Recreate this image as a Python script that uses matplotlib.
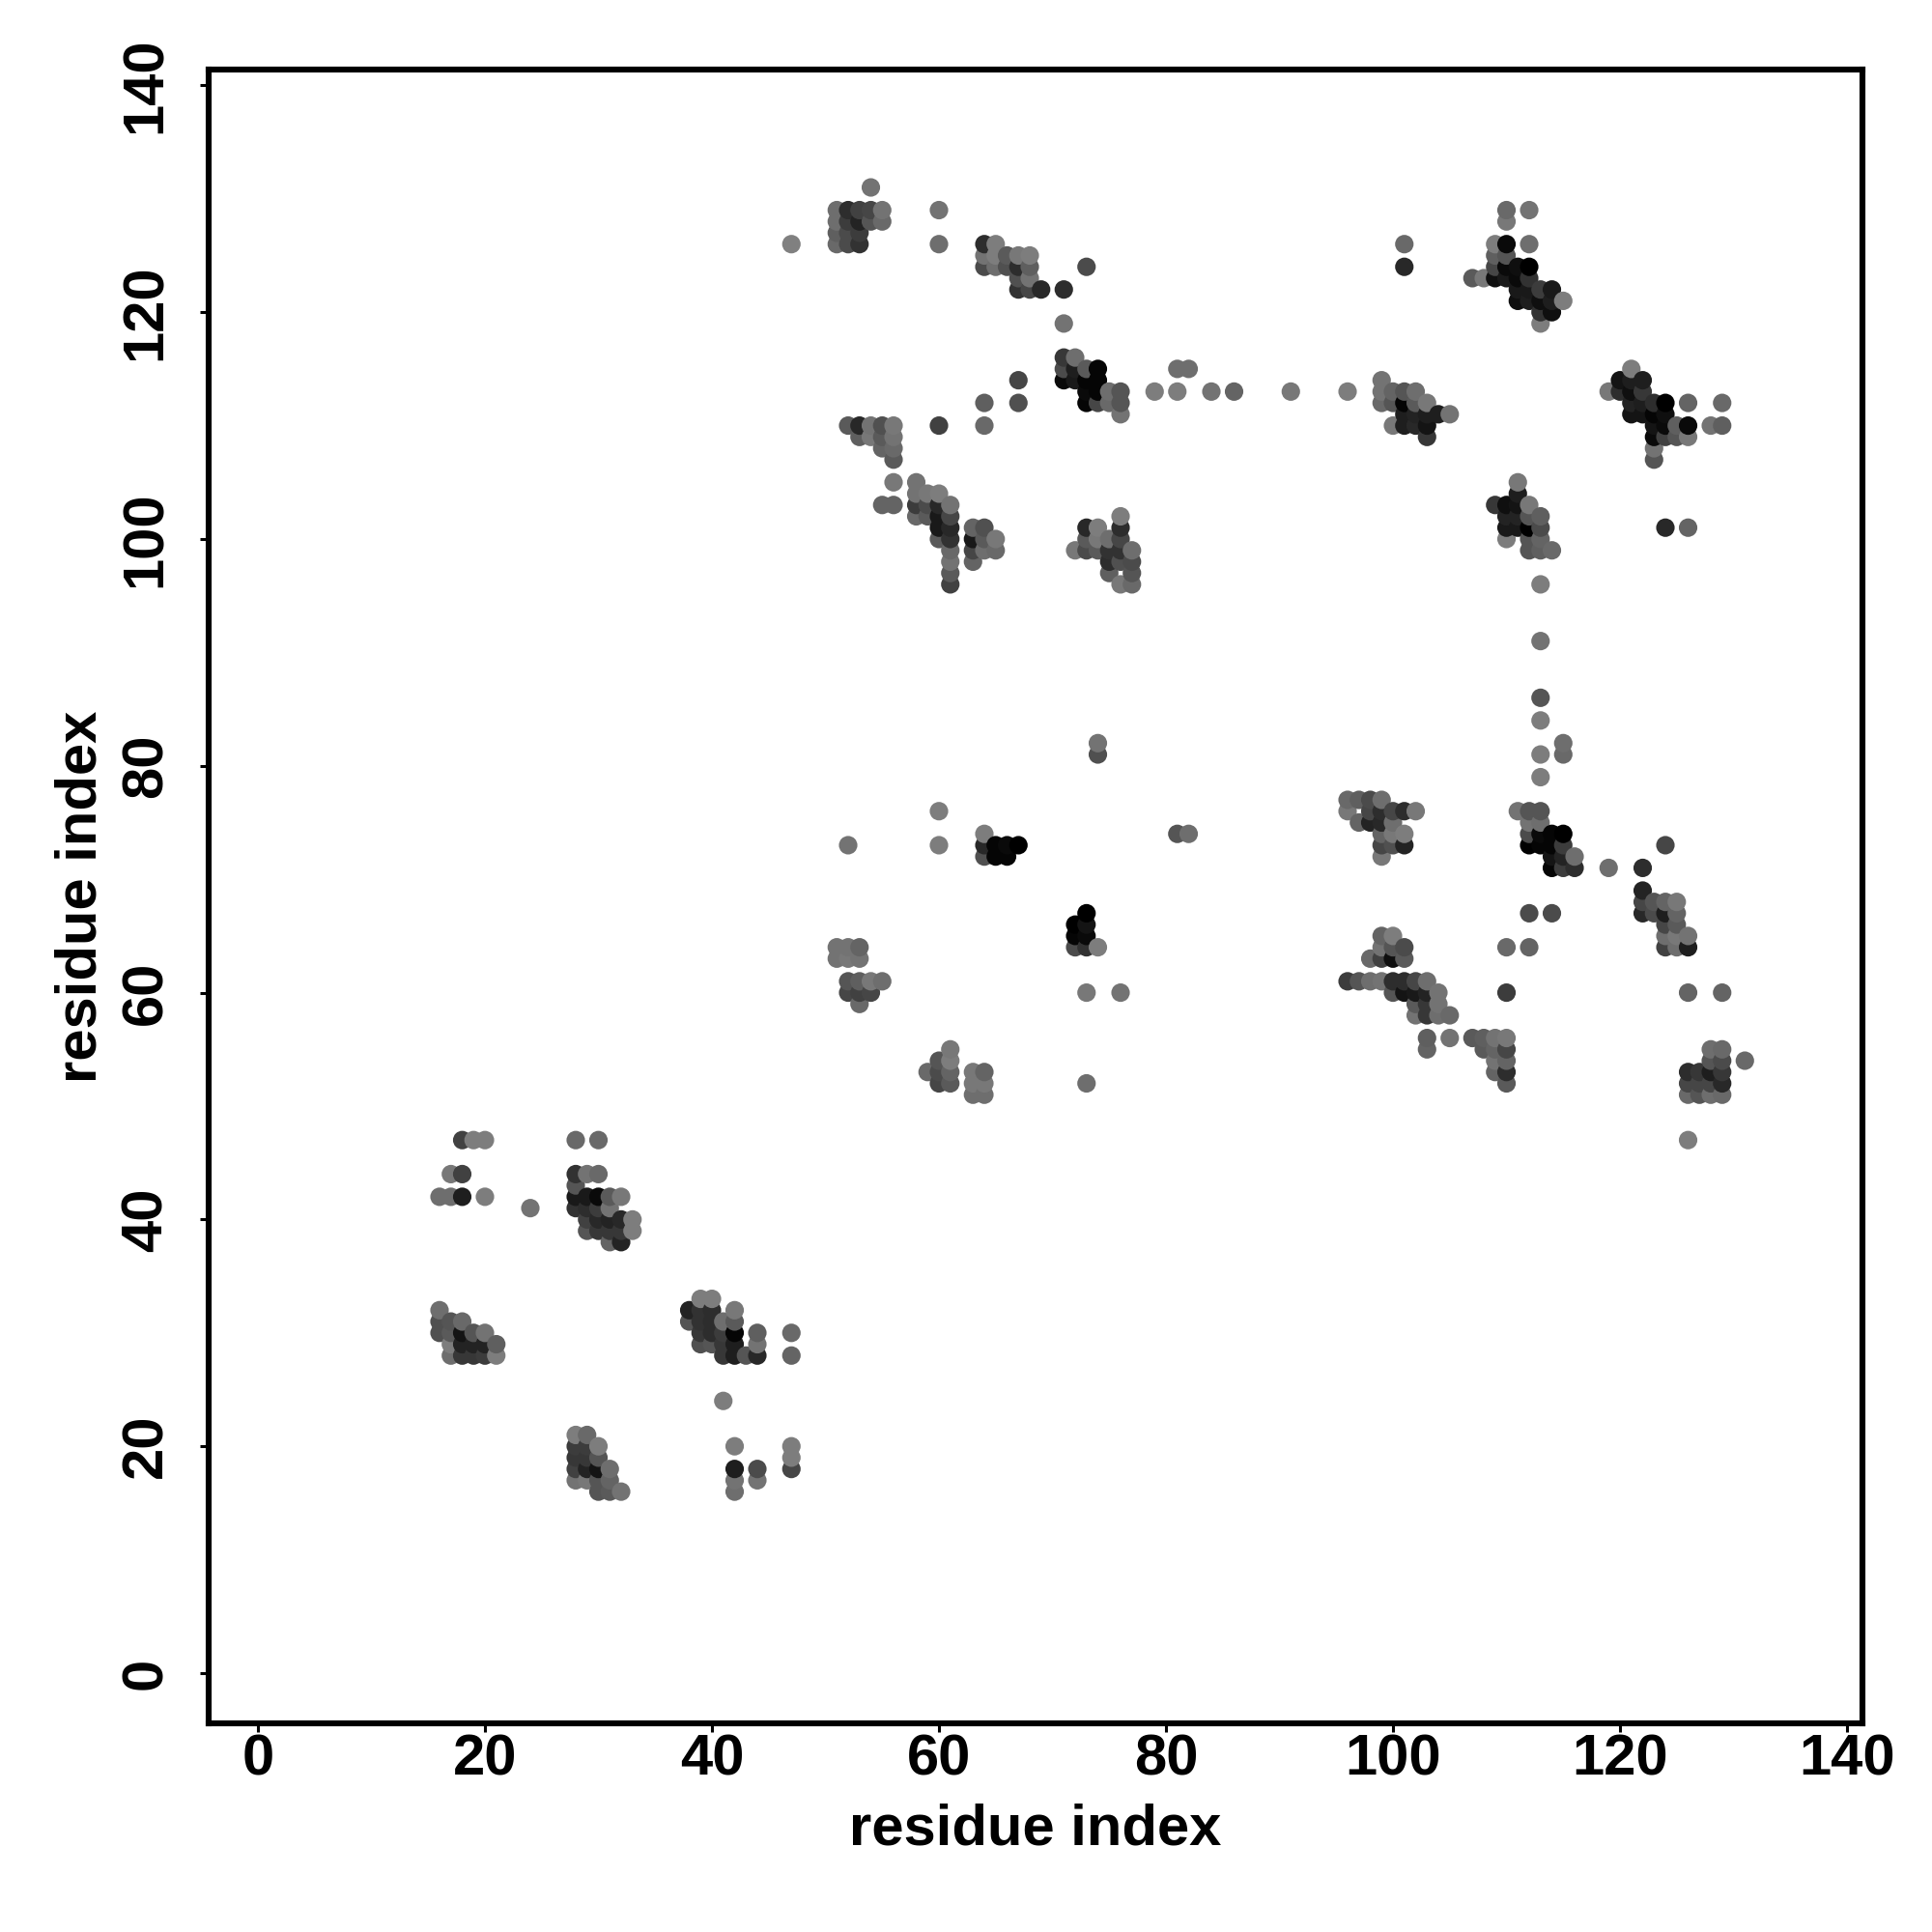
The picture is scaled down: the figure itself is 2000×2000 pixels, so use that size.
import numpy as np
import matplotlib
matplotlib.use('Agg')
import matplotlib.pyplot as plt

# each point is (residue i, residue j, grey level 0-255)
block_a = [(47,126,128),(54,131,115),(60,129,115),(60,126,110),
    (51,129,110),(52,129,45),(53,129,65),(54,129,70),(55,129,115),
    (51,128,110),(52,128,60),(53,128,35),(54,128,85),(55,128,105),
    (51,127,95),(52,127,75),(53,127,60),
    (51,126,105),(52,126,75),(53,126,50)]
block_b = [(64,126,45),(65,126,125),
    (64,125,115),(65,125,125),(66,125,90),(67,125,120),(68,125,125),
    (64,124,75),(65,124,110),(66,124,80),(67,124,45),(68,124,95),
    (67,123,80),(68,123,115),
    (67,122,50),(68,122,70),(69,122,40),(71,122,45),
    (73,124,75),(71,119,115)]
block_c = [(71,116,55),(72,116,110),
    (71,115,75),(72,115,30),(73,115,90),(74,115,5),
    (71,114,10),(72,114,25),(73,114,5),(74,114,5),
    (73,113,10),(74,113,5),(75,113,110),(76,113,85),
    (73,112,5),(74,112,70),(75,112,105),(76,112,85),
    (76,111,115)]
block_row113 = [(81,115,110),(82,115,110),(79,113,125),(81,113,125),(84,113,115),
    (86,113,100),(91,113,120),(96,113,125),
    (67,114,70),(67,112,80),(64,112,95),(64,110,105),(60,110,65)]
block_d = [(110,129,105),(112,129,115),(110,128,120),
    (101,126,105),(109,126,125),(110,126,10),(112,126,110),
    (109,125,95),(110,125,85),
    (101,124,40),(109,124,70),(110,124,10),(111,124,15),(112,124,0),
    (107,123,90),(108,123,120),(109,123,15),(110,123,25),(111,123,10),(112,123,50),
    (111,122,25),(112,122,25),(113,122,60),(114,122,25),
    (111,121,15),(112,121,30),(113,121,15),(114,121,30),(115,121,125),
    (113,120,50),(114,120,15),(113,119,125)]
block_e = [(99,114,115),
    (99,113,115),(100,113,100),(101,113,85),(102,113,110),
    (99,112,105),(100,112,85),(101,112,5),(102,112,90),(103,112,120),
    (101,111,30),(102,111,35),(103,111,30),(104,111,30),(105,111,115),
    (100,110,120),(101,110,30),(102,110,40),(103,110,20),
    (103,109,55)]
block_f = [(121,115,125),
    (120,114,20),(121,114,30),(122,114,30),
    (119,113,120),(120,113,45),(121,113,15),(122,113,55),
    (121,112,35),(122,112,30),(123,112,45),(124,112,0),(126,112,100),(129,112,105),
    (121,111,20),(122,111,20),(123,111,5),(124,111,15),
    (123,110,20),(124,110,10),(125,110,95),(126,110,10),(128,110,115),(129,110,95),
    (123,109,10),(124,109,65),(125,109,85),(126,109,120),
    (123,108,115),(123,107,85)]
block_g = [(111,105,120),(111,104,30),
    (109,103,55),(110,103,15),(111,103,20),(112,103,120),
    (110,102,35),(111,102,35),(112,102,85),(113,102,95),
    (110,101,25),(111,101,25),(112,101,0),(113,101,75),
    (110,100,125),(112,100,85),(113,100,100),
    (112,99,85),(113,99,95),(114,99,105),
    (113,96,125),(113,91,115),(113,86,85),(124,101,40),(126,101,100)]
block_h = [(52,110,90),(53,110,40),(54,110,115),(55,110,80),(56,110,120),
    (53,109,95),(54,109,120),(55,109,90),(56,109,115),
    (55,108,100),(56,108,105),(56,107,90),(56,105,120),
    (55,103,100),(56,103,100)]
block_i = [(58,105,115),
    (58,104,115),(59,104,120),(60,104,125),
    (58,103,60),(59,103,75),(60,103,40),(61,103,115),
    (58,102,105),(59,102,90),(60,102,25),(61,102,70),
    (60,101,25),(61,101,40),
    (60,100,90),(61,100,50),
    (61,99,105),(61,98,115),(61,97,90),(61,96,65)]
block_j = [(63,101,100),(64,101,80),
    (63,100,25),(64,100,90),(65,100,120),
    (63,99,70),(64,99,110),(65,99,105),
    (63,98,100)]
block_k = [(76,102,125),
    (73,101,40),(74,101,125),(76,101,45),
    (73,100,90),(74,100,120),(75,100,110),(76,100,70),
    (72,99,120),(73,99,75),(74,99,90),(75,99,50),(76,99,50),(77,99,110),
    (75,98,45),(76,98,80),(77,98,75),
    (75,97,95),(77,97,85),
    (76,96,120),(77,96,105)]
block_l = [(74,82,115),(74,81,80),(60,76,125),(60,73,125),(52,73,115),
    (64,74,125),(64,73,40),(64,72,80),(65,73,5),(65,72,5),(66,73,10),(66,72,5),(67,73,0),
    (81,74,85),(82,74,110)]
block_m = [(73,67,0),(72,66,0),(73,66,20),(72,65,5),(73,65,10),
    (72,64,75),(73,64,50),(74,64,125),(73,60,120),(76,60,115),(73,52,110)]
block_n = [(51,64,115),(52,64,115),(53,64,100),(51,63,115),(52,63,120),(53,63,115),
    (52,61,85),(53,61,95),(54,61,120),(55,61,110),
    (52,60,70),(53,60,65),(54,60,70),(53,59,105)]
block_p = [(61,55,120),(60,54,85),(61,54,125),
    (59,53,105),(60,53,75),(61,53,100),(60,52,70),(61,52,90),
    (63,53,120),(64,53,100),(63,52,120),(64,52,120),(63,51,110),(64,51,110)]
block_r = [(96,77,105),(97,77,95),(98,77,75),(99,77,110),
    (96,76,120),(98,76,70),(99,76,45),(100,76,70),(101,76,45),(102,76,120),
    (97,75,100),(98,75,35),(99,75,40),(100,75,110),
    (99,74,100),(100,74,120),(101,74,125),
    (99,73,70),(100,73,80),(101,73,35),
    (99,72,120)]
block_s = [(113,84,125),(115,82,110),(113,81,125),(115,81,105),(113,79,125),
    (111,76,115),(112,76,85),(113,76,85),
    (112,75,115),(113,75,110),
    (112,74,75),(113,74,10),(114,74,5),(115,74,0),
    (112,73,0),(113,73,5),(114,73,5),(115,73,60),
    (114,72,20),(115,72,35),(116,72,110),
    (114,71,5),(115,71,60),(116,71,45),
    (119,71,110),(122,71,45),(124,73,70),
    (112,67,75),(114,67,75),(110,64,105),(112,64,100),(110,60,60)]
block_u = [(122,69,35),
    (122,68,70),(123,68,85),(124,68,100),(125,68,120),
    (122,67,40),(123,67,75),(124,67,30),(125,67,100),
    (124,66,70),(125,66,90),
    (124,65,110),(125,65,120),(126,65,115),
    (124,64,65),(125,64,110),(126,64,30),
    (126,60,100),(129,60,100)]
block_v = [(99,65,100),(100,65,125),
    (99,64,115),(100,64,85),(101,64,75),
    (98,63,105),(99,63,65),(100,63,15),(101,63,90)]
block_w = [(96,61,60),(97,61,85),(98,61,110),(99,61,115),(100,61,45),(101,61,45),(102,61,70),(103,61,110),
    (100,60,85),(101,60,20),(102,60,25),(103,60,35),(104,60,115),
    (102,59,90),(103,59,55),(104,59,115),
    (102,58,115),(103,58,55),(104,58,110),(105,58,105),
    (103,56,95),(103,55,100),(105,56,115)]
block_x = [(107,56,90),(108,56,95),(109,56,115),(110,56,120),
    (108,55,90),(109,55,100),(110,55,70),
    (109,54,115),(110,54,100),
    (109,53,100),(110,53,45),(110,52,90)]
block_y = [(128,55,110),(129,55,105),
    (128,54,85),(129,54,75),(131,54,105),
    (126,53,45),(127,53,55),(128,53,30),(129,53,55),
    (126,52,70),(127,52,70),(128,52,70),(129,52,40),
    (126,51,105),(127,51,85),(128,51,110),(129,51,105),
    (126,47,125)]
block_z = [(18,47,65),(19,47,125),(20,47,125),(28,47,105),(30,47,105),
    (17,44,120),(18,44,65),(28,44,50),(29,44,115),(30,44,105),(28,43,85),
    (16,42,110),(17,42,110),(18,42,30),(20,42,125),
    (28,42,25),(29,42,25),(30,42,10),(31,42,90),(32,42,120),
    (24,41,115),(28,41,50),(29,41,45),(30,41,60),(31,41,115),
    (29,40,65),(30,40,40),(31,40,35),(32,40,40),(33,40,125),
    (29,39,85),(30,39,55),(31,39,55),(32,39,55),(33,39,125),
    (31,38,100),(32,38,35)]
block_aa = [(16,32,110),(16,31,80),(17,31,85),(18,31,105),
    (16,30,80),(17,30,90),(18,30,20),(19,30,85),(20,30,115),
    (17,29,125),(18,29,35),(19,29,35),(20,29,35),(21,29,95),
    (17,28,110),(18,28,55),(19,28,55),(20,28,60),(21,28,125)]
block_bb = [(39,33,125),(40,33,125),
    (38,32,35),(39,32,50),(40,32,45),(42,32,120),
    (38,31,85),(39,31,50),(40,31,45),(41,31,110),(42,31,90),
    (39,30,55),(40,30,45),(41,30,60),(42,30,5),(44,30,95),(47,30,105),
    (39,29,80),(40,29,85),(41,29,55),(42,29,30),(44,29,115),
    (41,28,55),(42,28,30),(43,28,85),(44,28,40),(47,28,100),
    (41,24,125)]
block_cc = [(28,21,125),(29,21,105),
    (28,20,60),(29,20,60),(30,20,125),
    (28,19,55),(29,19,55),(30,19,85),
    (28,18,65),(29,18,35),(30,18,20),(31,18,110),
    (28,17,115),(29,17,120),(30,17,85),(31,17,100),
    (30,16,85),(31,16,90),(32,16,115)]
block_dd = [(42,20,125),(42,18,30),(44,18,75),(42,17,115),(44,17,115),(42,16,110),
    (47,20,125),(47,19,125),(47,18,70)]

blocks = [block_a, block_b, block_c, block_row113, block_d, block_e, block_f, block_g,
          block_h, block_i, block_j, block_k, block_l, block_m, block_n, block_p,
          block_r, block_s, block_u, block_v, block_w, block_x, block_y, block_z,
          block_aa, block_bb, block_cc, block_dd]
tick_vals = [0, 20, 40, 60, 80, 100, 120, 140]

plt.rcParams['font.family'] = ['Liberation Sans', 'DejaVu Sans']
plt.rcParams['font.weight'] = 'bold'

pts = np.array([p for b in blocks for p in b], dtype=float)
# drawn column by column, upper residues on top
order = np.lexsort((pts[:, 1], pts[:, 0]))
pts = pts[order]
greys = [(g/255., g/255., g/255.) for g in pts[:, 2]]

fig = plt.figure(figsize=(20, 20), dpi=100)
ax = fig.add_axes([216/2000., 1-1784/2000., (1928-216)/2000., (1784-71.7)/2000.])
ax.scatter(pts[:, 0], pts[:, 1], s=190, c=greys, linewidths=0, zorder=2)

ax.set_xlim(-4.34, 141.36)
ax.set_ylim(-4.43, 141.42)
ax.set_xticks(tick_vals)
ax.set_yticks(tick_vals)
ax.tick_params(axis='x', length=6.5, width=2.2, pad=1, labelsize=43)
ax.tick_params(axis='y', length=6.5, width=2.2, pad=20, labelsize=43)
for lab in ax.get_yticklabels():
    lab.set_rotation(90)
    lab.set_va('center')
for sp in ax.spines.values():
    sp.set_linewidth(4.4)

ax.set_xlabel('residue index', fontsize=43, fontweight='bold', labelpad=12)
ax.set_ylabel('residue index', fontsize=43, fontweight='bold', labelpad=9)

fig.savefig('out.png', dpi=100, facecolor='white')
